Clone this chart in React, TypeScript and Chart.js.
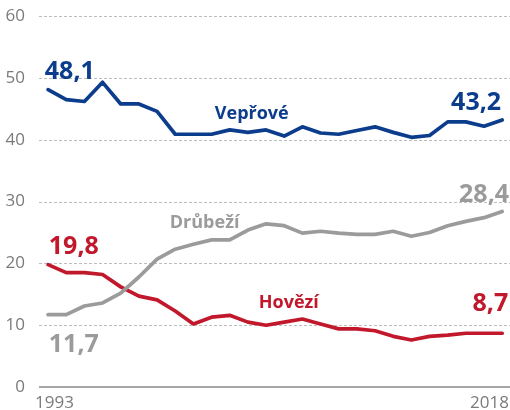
import React, { useEffect, useRef } from "react";
import { Chart, registerables } from "chart.js";

Chart.register(...registerables);

const years = [1993, 1994, 1995, 1996, 1997, 1998, 1999, 2000, 2001, 2002, 2003, 2004, 2005, 2006, 2007, 2008, 2009, 2010, 2011, 2012, 2013, 2014, 2015, 2016, 2017, 2018];
const veprove = [48.1, 46.5, 46.2, 49.3, 45.8, 45.8, 44.6, 40.9, 40.9, 40.9, 41.6, 41.2, 41.6, 40.6, 42.1, 41.1, 40.9, 41.5, 42.1, 41.2, 40.4, 40.7, 42.9, 42.9, 42.2, 43.2];
const drubezi = [11.7, 11.7, 13.1, 13.6, 15.2, 17.8, 20.7, 22.3, 23.1, 23.8, 23.8, 25.4, 26.4, 26.1, 24.9, 25.2, 24.9, 24.7, 24.7, 25.2, 24.4, 25.0, 26.1, 26.8, 27.4, 28.4];
const hovezi = [19.8, 18.5, 18.5, 18.2, 16.2, 14.7, 14.1, 12.3, 10.2, 11.3, 11.6, 10.5, 10.0, 10.5, 11.0, 10.2, 9.4, 9.4, 9.1, 8.2, 7.6, 8.2, 8.4, 8.7, 8.7, 8.7];
const yTicks = [0, 10, 20, 30, 40, 50, 60];
const xLabels = ["1993", "2018"];

const BLUE = "#0c3d8c";
const RED = "#c2182c";
const GRAY = "#9b9b9b";

type Note = { text: string; x: number; y: number; align: CanvasTextAlign; color: string; size: number };
const notes: Note[] = [
  { text: "48,1", x: 1992.82, y: 49.77, align: "left", color: BLUE, size: 25 },
  { text: "43,2", x: 2017.94, y: 44.9, align: "right", color: BLUE, size: 25 },
  { text: "Vepřové", x: 2002.18, y: 43.4, align: "left", color: BLUE, size: 18 },
  { text: "28,4", x: 2018.38, y: 30.0, align: "right", color: GRAY, size: 25 },
  { text: "Drůbeží", x: 1999.7, y: 25.76, align: "left", color: GRAY, size: 18 },
  { text: "19,8", x: 1993.04, y: 21.5, align: "left", color: RED, size: 25 },
  { text: "11,7", x: 1993.04, y: 5.63, align: "left", color: GRAY, size: 25 },
  { text: "Hovězí", x: 2004.6, y: 12.8, align: "left", color: RED, size: 18 },
  { text: "8,7", x: 2018.33, y: 12.27, align: "right", color: RED, size: 25 },
];

const pts = (vals: number[]) => vals.map((v, i) => ({ x: years[i], y: v }));

const gridPlugin = {
  id: "dashGrid",
  beforeDatasetsDraw(chart: any) {
    const { ctx, scales, chartArea } = chart;
    const ys = scales.y;
    ctx.save();
    ctx.strokeStyle = "#bdbdbd";
    ctx.lineWidth = 1;
    ctx.setLineDash([3, 2]);
    for (const v of yTicks) {
      if (v === 0) continue;
      const y = Math.round(ys.getPixelForValue(v)) + 0.5;
      ctx.beginPath();
      ctx.moveTo(chartArea.left, y);
      ctx.lineTo(chartArea.right, y);
      ctx.stroke();
    }
    ctx.setLineDash([]);
    ctx.strokeStyle = "#8a8a8a";
    ctx.lineWidth = 1.5;
    const y0 = ys.getPixelForValue(0);
    ctx.beginPath();
    ctx.moveTo(chartArea.left, y0);
    ctx.lineTo(chartArea.right, y0);
    ctx.stroke();
    ctx.restore();
  },
};

const annotate = {
  id: "annotate",
  afterDraw(chart: any) {
    const { ctx, scales } = chart;
    const xs = scales.x;
    const ys = scales.y;
    ctx.save();
    ctx.fillStyle = "#7a7a7a";
    ctx.font = "17px 'Open Sans'";
    ctx.textBaseline = "alphabetic";
    ctx.textAlign = "left";
    ctx.fillText(xLabels[0], 35, 408);
    ctx.textAlign = "right";
    ctx.fillText(xLabels[1], 509, 408);
    for (const n of notes) {
      ctx.fillStyle = n.color;
      ctx.font = `bold ${n.size}px 'Open Sans'`;
      ctx.textAlign = n.align;
      ctx.fillText(n.text, xs.getPixelForValue(n.x), ys.getPixelForValue(n.y));
    }
    ctx.restore();
  },
};

export default function App() {
  const ref = useRef<HTMLCanvasElement>(null);
  useEffect(() => {
    if (!ref.current) return;
    const ds = (label: string, vals: number[], color: string) => ({
      label,
      data: pts(vals),
      borderColor: color,
      backgroundColor: color,
      borderWidth: 3.7,
      pointRadius: 0,
      tension: 0,
      borderJoinStyle: "round" as const,
      borderCapStyle: "round" as const,
    });
    const chart = new Chart(ref.current, {
      type: "line",
      data: {
        datasets: [ds("Drůbeží", drubezi, GRAY), ds("Hovězí", hovezi, RED), ds("Vepřové", veprove, BLUE)],
      },
      options: {
        animation: false,
        responsive: false,
        maintainAspectRatio: false,
        layout: { padding: { top: 9, right: 0, bottom: 0, left: 0 } },
        plugins: { legend: { display: false }, tooltip: { enabled: false } },
        scales: {
          x: {
            type: "linear",
            min: 1992.5,
            max: 2018.43,
            grid: { display: false },
            border: { display: false },
            ticks: { display: false },
            afterFit: (s: any) => {
              s.height = 23;
            },
          },
          y: {
            min: 0,
            max: 60,
            afterBuildTicks: (s: any) => {
              s.ticks = yTicks.map((v) => ({ value: v }));
            },
            ticks: { color: "#7a7a7a", font: { family: "'Open Sans'", size: 17 }, padding: 6 },
            grid: { display: false },
            border: { display: false },
            afterFit: (s: any) => {
              s.width = 39;
            },
          },
        },
      },
      plugins: [gridPlugin, annotate],
    });
    return () => chart.destroy();
  }, []);
  return (
    <div style={{ position: "fixed", left: 0, top: 0, width: 510, height: 410, background: "#fff" }}>
      <canvas ref={ref} width={510} height={410} style={{ width: 510, height: 410 }} />
    </div>
  );
}
